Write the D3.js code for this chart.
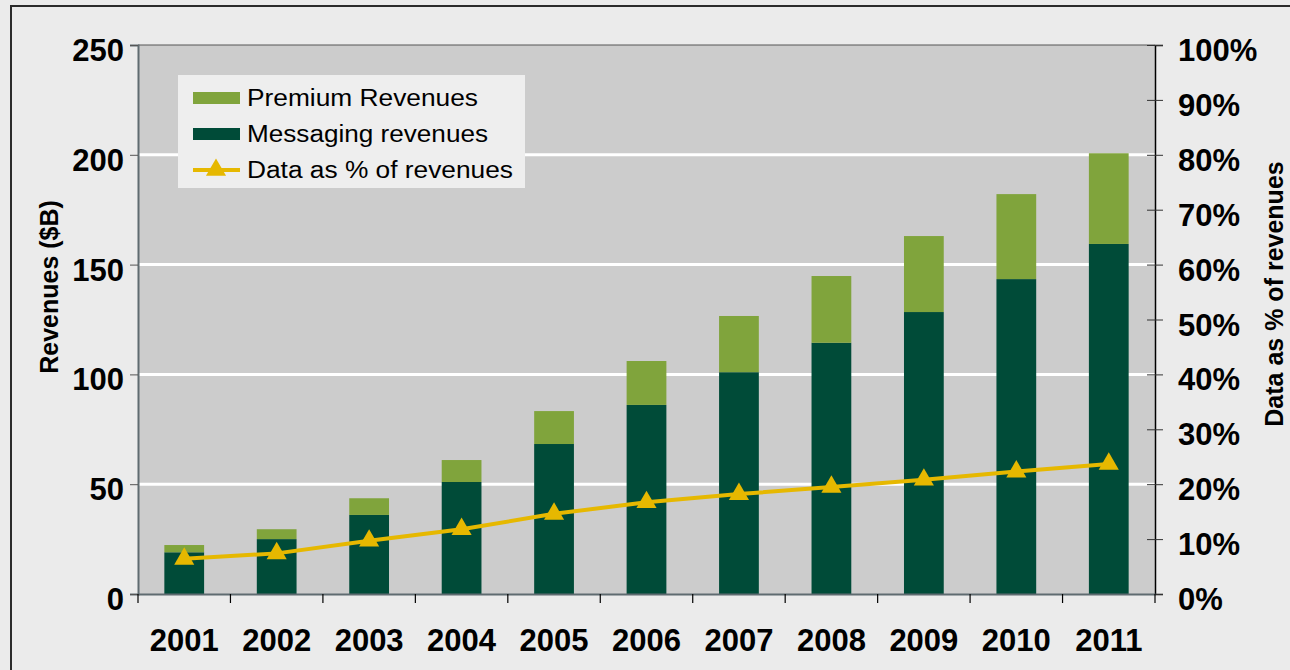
<!DOCTYPE html>
<html><head><meta charset="utf-8">
<script src="https://cdn.jsdelivr.net/npm/d3@7"></script>
<style>body{margin:0;background:#ebebeb;}svg{display:block;font-family:Arial,"Liberation Sans",sans-serif;}</style>
</head><body><svg id="c" width="1290" height="670"></svg>
<script>
const years = ["2001","2002","2003","2004","2005","2006","2007","2008","2009","2010","2011"];
const messaging = [19, 25, 36, 51, 68.3, 86.1, 101, 114.4, 128.4, 143.4, 159.4];
const premium = [3.3, 4.5, 7.6, 10, 15, 20, 25.6, 30.4, 34.6, 38.7, 41.3];
const dataPct = [6.4, 7.4, 9.7, 11.8, 14.6, 16.7, 18.2, 19.5, 20.8, 22.3, 23.7];
const leftTicks = [0, 50, 100, 150, 200, 250];
const rightTicks = [0, 10, 20, 30, 40, 50, 60, 70, 80, 90, 100];
const legendLabels = ["Premium Revenues", "Messaging revenues", "Data as % of revenues"];

const svg = d3.select("#c");
const L = 138, R = 1155, T = 45, B = 594;
const C = {bg:"#ebebeb", plot:"#cccccc", prem:"#80a43c", msg:"#004b38", line:"#e6b800"};

svg.append("rect").attr("x",0).attr("y",0).attr("width",1290).attr("height",670).attr("fill",C.bg);
svg.append("rect").attr("x",11).attr("y",6).attr("width",1300).attr("height",700)
  .attr("fill","none").attr("stroke","#2b2b2b").attr("stroke-width",2);

const x = d3.scaleBand().domain(years).range([L, R]).paddingInner(0.57).paddingOuter(0.285);
const xb = d3.scaleBand().domain(years).range([L, R]);
const y = d3.scaleLinear().domain([0, 250]).range([B, T]);
const y2 = d3.scaleLinear().domain([0, 100]).range([B, T]);

svg.append("rect").attr("x",L).attr("y",T).attr("width",R-L).attr("height",B-T).attr("fill",C.plot);

// gridlines
svg.append("g").selectAll("line").data(leftTicks.filter(d=>d>0 && d<250)).join("line")
  .attr("x1",L).attr("x2",R).attr("y1",d=>y(d)).attr("y2",d=>y(d))
  .attr("stroke","#ffffff").attr("stroke-width",3);
svg.append("line").attr("x1",L).attr("x2",R).attr("y1",T).attr("y2",T).attr("stroke","#555").attr("stroke-width",1);

// bars
const g = svg.append("g");
g.selectAll(".m").data(years).join("rect")
  .attr("x",d=>x(d)).attr("width",x.bandwidth())
  .attr("y",(d,i)=>y(messaging[i])).attr("height",(d,i)=>y(0)-y(messaging[i]))
  .attr("fill",C.msg);
g.selectAll(".p").data(years).join("rect")
  .attr("x",d=>x(d)).attr("width",x.bandwidth())
  .attr("y",(d,i)=>y(messaging[i]+premium[i])).attr("height",(d,i)=>y(messaging[i])-y(messaging[i]+premium[i]))
  .attr("fill",C.prem);

// line
const cx = d => x(d) + x.bandwidth()/2;
svg.append("path").datum(years)
  .attr("d", d3.line().x(d=>cx(d)).y((d,i)=>y2(dataPct[i])))
  .attr("fill","none").attr("stroke",C.line).attr("stroke-width",4);
const tri = d3.symbol().type(d3.symbolTriangle).size(175);
svg.append("g").selectAll("path").data(years).join("path")
  .attr("d",tri).attr("transform",(d,i)=>`translate(${cx(d)},${y2(dataPct[i])})`)
  .attr("fill",C.line);

// axes
const fontTick = "bold 31px Arial, 'Liberation Sans', sans-serif";
const ax = svg.append("g").attr("transform",`translate(${L},0)`)
  .call(d3.axisLeft(y).tickValues(leftTicks).tickSize(8).tickPadding(6));
ax.select(".domain").attr("stroke","#5f6b70").attr("stroke-width",2);
ax.selectAll(".tick line").attr("stroke","#555");
ax.selectAll("text").style("font",fontTick).attr("fill","#000").attr("dy","0.5em");

const ar = svg.append("g").attr("transform",`translate(${R},0)`)
  .call(d3.axisRight(y2).tickValues(rightTicks).tickSize(8).tickPadding(15).tickFormat(d=>d+"%"));
ar.select(".domain").attr("stroke","#000").attr("stroke-width",1.5);
ar.selectAll(".tick line").attr("x1",-8).attr("stroke","#333");
ar.selectAll("text").style("font",fontTick).attr("fill","#000").attr("dy","0.5em");

const axb = svg.append("g").attr("transform",`translate(0,${B})`)
  .call(d3.axisBottom(xb).tickSize(0).tickPadding(35));
axb.select(".domain").attr("stroke","#5f6b70").attr("stroke-width",2);
axb.selectAll("text").style("font",fontTick).attr("fill","#000");
svg.append("g").selectAll("line").data(years.concat(["end"])).join("line")
  .attr("x1",(d,i)=>L + i*xb.step()).attr("x2",(d,i)=>L + i*xb.step())
  .attr("y1",B).attr("y2",B+9).attr("stroke","#000").attr("stroke-width",1.2);

// axis titles
svg.append("text").attr("transform","translate(58,287) rotate(-90)")
  .attr("text-anchor","middle").style("font","bold 25px Arial, 'Liberation Sans', sans-serif")
  .text("Revenues ($B)");
svg.append("text").attr("transform","translate(1283,294) rotate(-90)")
  .attr("text-anchor","middle").style("font","bold 25px Arial, 'Liberation Sans', sans-serif")
  .text("Data as % of revenues");

// legend
const lg = svg.append("g");
lg.append("rect").attr("x",178).attr("y",75).attr("width",347).attr("height",113).attr("fill","#eeeeee");
const rows = [98, 134, 170];
const legendWidths = [231, 241, 266];
lg.append("rect").attr("x",193).attr("y",rows[0]-6).attr("width",47).attr("height",12).attr("fill",C.prem);
lg.append("rect").attr("x",193).attr("y",rows[1]-6).attr("width",47).attr("height",12).attr("fill",C.msg);
lg.append("line").attr("x1",193).attr("x2",240).attr("y1",rows[2]).attr("y2",rows[2]).attr("stroke",C.line).attr("stroke-width",4);
lg.append("path").attr("d",tri).attr("transform",`translate(216,${rows[2]})`).attr("fill",C.line);
lg.selectAll("text").data(legendLabels).join("text")
  .attr("x",247).attr("y",(d,i)=>rows[i]).attr("dy","0.36em")
  .attr("textLength",(d,i)=>legendWidths[i]).attr("lengthAdjust","spacingAndGlyphs")
  .style("font","23px Arial, 'Liberation Sans', sans-serif").attr("fill","#000").text(d=>d);
</script></body></html>
